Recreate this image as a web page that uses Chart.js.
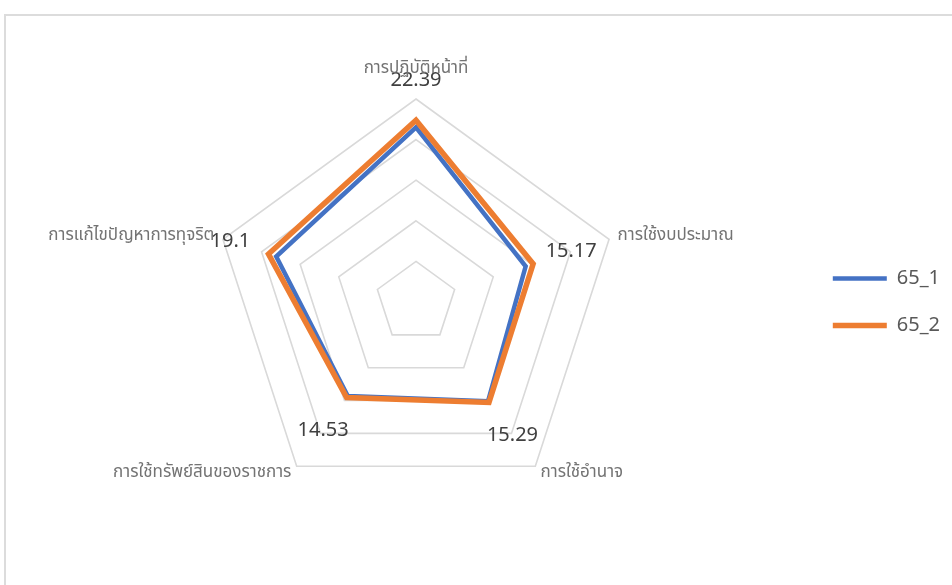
<!DOCTYPE html>
<html>
<head>
<meta charset="utf-8">
<script src="https://cdn.jsdelivr.net/npm/chart.js@4.4.1/dist/chart.umd.min.js"></script>
<style>
	html, body {
		margin: 0;
		padding: 0;
		overflow: hidden;
		background: #fff;
	}
	.frame {
		position: absolute;
		left: 4px;
		top: 14px;
		width: 1000px;
		height: 620px;
		border: 2px solid #dcdcdc;
	}
	.chart-box {
		position: absolute;
		left: 0;
		top: 0;
		width: 952px;
		height: 585px;
	}
</style>
</head>
<body>
<div class="frame"></div>
<div class="chart-box">
	<canvas id="radar-chart"></canvas>
</div>
<script>
	const categories = [
		'การปฏิบัติหน้าที่',
		'การใช้งบประมาณ',
		'การใช้อำนาจ',
		'การใช้ทรัพย์สินของราชการ',
		'การแก้ไขปัญหาการทุจริต',
	];
	const values651 = [21.5, 14.2, 15.1, 14.3, 18.1];
	const values652 = [22.39, 15.17, 15.29, 14.53, 19.1];
	const seriesNames = ['65_1', '65_2'];
	const scaleMax = 25;
	const scaleStep = 5;

	const thaiFont = "'Noto Sans Thai', 'Noto Sans', Tahoma, sans-serif";

	// category names around the web, placed from the scale itself
	const categoryLabels = {
		id: 'categoryLabels',
		afterDraw(chart) {
			const scale = chart.scales.r;
			const ctx = chart.ctx;
			ctx.save();
			ctx.font = '17px ' + thaiFont;
			ctx.fillStyle = '#737373';
			ctx.textBaseline = 'middle';
			categories.forEach((name, i) => {
				const angle = scale.getIndexAngle(i) * 180 / Math.PI;
				const pad = angle === 0 ? 29 : 9;
				const pos = scale.getPointPosition(i, scale.drawingArea + pad);
				if (angle === 0) {
					ctx.textAlign = 'center';
				} else if (angle < 180) {
					ctx.textAlign = 'left';
				} else {
					ctx.textAlign = 'right';
				}
				ctx.fillText(name, pos.x, pos.y);
			});
			ctx.restore();
		},
	};

	// value labels of the second series, just outside each point
	const valueLabels = {
		id: 'valueLabels',
		afterDatasetsDraw(chart) {
			const scale = chart.scales.r;
			const ctx = chart.ctx;
			ctx.save();
			ctx.font = '20px "Noto Sans", sans-serif';
			ctx.fillStyle = '#404040';
			ctx.textAlign = 'center';
			ctx.textBaseline = 'middle';
			values652.forEach((v, i) => {
				const pos = scale.getPointPosition(i, scale.getDistanceFromCenterForValue(v) + 40);
				ctx.fillText(String(v), pos.x, pos.y);
			});
			ctx.restore();
		},
	};

	const ctx = document.getElementById('radar-chart');

	new Chart(ctx, {
		type: 'radar',
		data: {
			labels: categories,
			datasets: [
				{
					label: seriesNames[0],
					data: values651,
					borderColor: '#4472c4',
					backgroundColor: '#4472c4',
					borderWidth: 4.5,
					borderCapStyle: 'round',
					pointRadius: 0,
					fill: false,
					order: 1,
				},
				{
					label: seriesNames[1],
					data: values652,
					borderColor: '#ed7d31',
					backgroundColor: '#ed7d31',
					borderWidth: 5.5,
					borderCapStyle: 'round',
					pointRadius: 0,
					fill: false,
					order: 0,
				},
			],
		},
		options: {
			responsive: true,
			maintainAspectRatio: false,
			animation: false,
			layout: {
				padding: { left: 27, right: 2, top: 99, bottom: 80 },
			},
			plugins: {
				tooltip: { enabled: false },
				legend: {
					position: 'right',
					labels: {
						usePointStyle: true,
						pointStyle: 'line',
						pointStyleWidth: 54,
						padding: 27,
						color: '#595959',
						font: { size: 20, family: '"Noto Sans", sans-serif' },
						sort: (a, b) => a.datasetIndex - b.datasetIndex,
					},
				},
			},
			scales: {
				r: {
					min: 0,
					max: scaleMax,
					ticks: {
						stepSize: scaleStep,
						display: false,
					},
					angleLines: { display: false },
					grid: {
						color: '#d9d9d9',
						lineWidth: 1.6,
					},
					pointLabels: { display: false },
				},
			},
		},
		plugins: [valueLabels, categoryLabels],
	});
</script>
</body>
</html>
